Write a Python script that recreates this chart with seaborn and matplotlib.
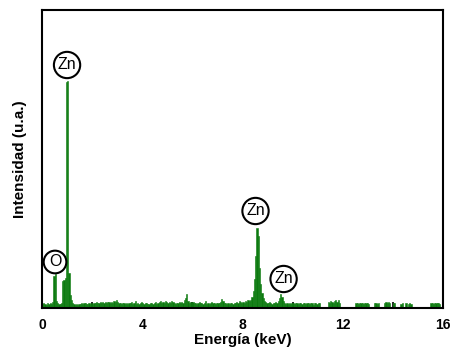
import numpy as np
import pandas as pd
import matplotlib
matplotlib.use("Agg")
import matplotlib.pyplot as plt
import seaborn as sns

# EDS spectrum, 0.05 keV channels, one row per keV (heights in arbitrary units)
bin_width = 0.05
counts_rows = [
    [4, 5, 4, 3, 5, 4, 5, 4, 6, 32, 34, 7, 5, 4, 4, 5, 27, 28, 30, 226],       # 0 keV
    [227, 35, 13, 8, 5, 4, 3, 4, 3, 4, 4, 5, 4, 5, 5, 4, 4, 5, 4, 5],          # 1 keV
    [4, 5, 5, 6, 5, 5, 6, 5, 6, 5, 6, 5, 6, 6, 5, 6, 5, 7, 6, 8],              # 2 keV
    [6, 5, 5, 4, 5, 5, 4, 5, 4, 5, 5, 6, 4, 5, 7, 4, 5, 4, 5, 6],              # 3 keV
    [5, 4, 5, 5, 4, 4, 5, 5, 4, 5, 6, 4, 5, 6, 7, 5, 6, 5, 7, 6],              # 4 keV
    [5, 6, 5, 7, 6, 5, 4, 5, 5, 6, 5, 6, 5, 8, 10, 14, 7, 5, 6, 5],            # 5 keV
    [6, 5, 5, 4, 5, 6, 5, 5, 4, 5, 7, 4, 5, 4, 5, 6, 5, 5, 4, 5],              # 6 keV
    [5, 5, 6, 9, 7, 5, 5, 4, 5, 4, 5, 5, 4, 5, 5, 6, 5, 7, 6, 5],              # 7 keV
    [6, 5, 7, 6, 8, 7, 8, 11, 17, 29, 52, 80, 72, 40, 24, 15, 10, 7, 6, 5],    # 8 keV
    [5, 6, 5, 4, 5, 5, 6, 5, 7, 10, 14, 11, 7, 5, 4, 5, 4, 5, 4, 5],           # 9 keV
    [5, 4, 5, 5, 4, 5, 5, 4, 5, 5, 4, 5, 5, 4, 5, 5, 3, 5, 5, 4],              # 10 keV
    [5, 5, 0, 0, 0, 0, 0, 0, 6, 5, 7, 6, 5, 7, 8, 6, 8, 5, 0, 0],              # 11 keV
    [0, 0, 0, 0, 0, 0, 0, 0, 0, 0, 5, 5, 4, 5, 5, 5, 4, 5, 5, 5],              # 12 keV
    [4, 0, 0, 0, 0, 5, 5, 4, 5, 0, 0, 0, 0, 5, 6, 5, 6, 5, 0, 0],              # 13 keV
    [5, 5, 0, 0, 0, 0, 4, 5, 0, 0, 5, 0, 4, 5, 4, 0, 0, 0, 0, 0],              # 14 keV
    [0, 0, 0, 0, 0, 0, 0, 0, 0, 0, 5, 5, 4, 5, 5, 5, 5, 4, 0, 0],              # 15 keV
]
counts = np.concatenate(counts_rows)
energy = np.arange(len(counts)) * bin_width + bin_width / 2
spectrum = pd.DataFrame({"energy": energy, "counts": counts})

# element labels: (text, energy, height)
labels = ["Zn", "O", "Zn", "Zn"]
label_x = [1.0, 0.52, 8.52, 9.64]
label_y = [243, 46, 97, 29]

x_ticks = [0, 4, 8, 12, 16]
x_minor = [2, 6, 10, 14]

sns.set_style("white")
plt.rcParams['font.family'] = ['Liberation Sans', 'DejaVu Sans']
plt.rcParams['text.color'] = 'black'
plt.rcParams['axes.labelcolor'] = 'black'
plt.rcParams['xtick.color'] = 'black'

fig = plt.figure(figsize=(4.5, 3.47), dpi=100)
ax = fig.add_axes([0.0933, 0.1124, 0.8911, 0.8588])

green = "#0c7a0f"
sns.histplot(data=spectrum, x="energy", weights="counts", binwidth=bin_width,
             binrange=(0, 16), color=green, alpha=1,
             edgecolor=green, linewidth=0.4, ax=ax)

for txt, lx, ly in zip(labels, label_x, label_y):
    ax.text(lx, ly, txt, ha="center", va="center", fontsize=11.5,
            bbox=dict(boxstyle="circle,pad=0.24", fc="white", ec="black", lw=1.5))

ax.set_xlim(0, 16)
ax.set_ylim(0, 298)
ax.set_xticks(x_ticks)
ax.set_xticks(x_minor, minor=True)
ax.set_yticks([])
ax.tick_params(axis="x", which="major", direction="in", length=7, width=1.2,
               color="black", pad=7, labelsize=10)
ax.tick_params(axis="x", which="minor", direction="in", length=4, width=1.2,
               color="black", bottom=True)
for lab in ax.get_xticklabels():
    lab.set_fontweight("bold")

ax.set_xlabel("Energía (keV)", fontsize=11, fontweight="bold", labelpad=1)
ax.set_ylabel("Intensidad (u.a.)", fontsize=11, fontweight="bold", labelpad=11)

for s in ax.spines.values():
    s.set_color("black")
    s.set_linewidth(1.5)

fig.savefig("out.png", dpi=100)
